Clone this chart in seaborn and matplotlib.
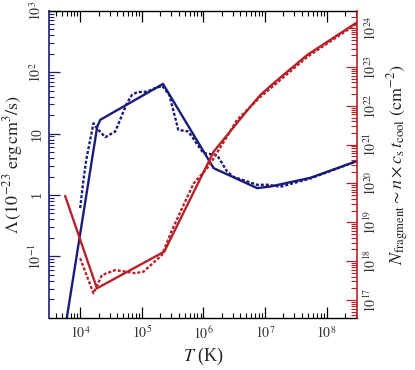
import numpy as np
import pandas as pd
import matplotlib
matplotlib.use("Agg")
import matplotlib.pyplot as plt
import seaborn as sns
from matplotlib.ticker import FixedLocator, LogLocator, NullFormatter

# values (log10 units)
# cooling function, piecewise fit (solid) and tabulated (dotted)
logT_fit = [3.783, 4.276, 4.325, 5.345, 6.167, 6.873, 7.089, 7.74, 8.504]
logL_fit = [-2.0, 1.109, 1.223, 1.808, 0.437, 0.112, 0.138, 0.280, 0.556]

logT_tab = [4.0, 4.054, 4.098, 4.216, 4.27, 4.407, 4.569, 4.759, 4.84, 4.922, 5.085,
            5.22, 5.333, 5.447, 5.593, 5.756, 6.0, 6.223, 6.385, 6.488, 6.873,
            7.057, 7.25, 7.74, 8.504]
logL_tab = [-0.213, 0.247, 0.572, 1.169, 1.09, 0.941, 1.033, 1.494, 1.629, 1.673, 1.683,
            1.74, 1.776, 1.629, 1.061, 1.033, 0.683, 0.650, 0.382, 0.296, 0.166,
            0.166, 0.134, 0.27, 0.556]

# fragment column density, fit (solid) and tabulated (dotted)
logT_nfit = [3.756, 4.272, 5.366, 6.167, 6.764, 6.927, 7.143, 7.686, 8.504]
logN_fit = [19.68, 17.30, 18.245, 20.82, 21.98, 22.28, 22.585, 23.31, 24.16]

logT_ntab = [4.0, 4.216, 4.353, 4.569, 4.894, 5.029, 5.328, 5.491, 5.68, 5.842,
             6.086, 6.385, 6.548, 6.927, 7.686, 8.504]
logN_ntab = [18.075, 17.17, 17.64, 17.77, 17.69, 17.73, 18.16, 18.80, 19.45, 20.0,
             20.44, 21.21, 21.64, 22.23, 23.26, 24.13]

left_ticks = [1e-1, 1, 10, 1e2, 1e3]
left_labels = [r"$10^{-1}$", "1", "10", r"$10^{2}$", r"$10^{3}$"]
right_exps = list(range(17, 25))
x_exps = [4, 5, 6, 7, 8]

navy = "#1b1b78"
red = "#b5222a"

sns.set_theme(style="ticks")
plt.rcParams["font.family"] = ["Liberation Serif", "DejaVu Serif"]
plt.rcParams["mathtext.fontset"] = "stix"

fig = plt.figure(figsize=(4.15, 3.7), dpi=100)
ax = fig.add_axes([0.119, 0.141, 0.742, 0.830])
ax2 = ax.twinx()

lam_fit = pd.DataFrame({"T": 10 ** np.array(logT_fit), "val": 10 ** np.array(logL_fit)})
lam_tab = pd.DataFrame({"T": 10 ** np.array(logT_tab), "val": 10 ** np.array(logL_tab)})
n_fit = pd.DataFrame({"T": 10 ** np.array(logT_nfit), "val": 10 ** np.array(logN_fit)})
n_tab = pd.DataFrame({"T": 10 ** np.array(logT_ntab), "val": 10 ** np.array(logN_ntab)})

dots = (0, (1.3, 0.8))
sns.lineplot(data=lam_fit, x="T", y="val", ax=ax, color=navy, lw=1.7, sort=False, estimator=None)
sns.lineplot(data=lam_tab, x="T", y="val", ax=ax, color=navy, lw=1.7, sort=False,
             estimator=None, linestyle=dots)
sns.lineplot(data=n_fit, x="T", y="val", ax=ax2, color=red, lw=1.7, sort=False, estimator=None)
sns.lineplot(data=n_tab, x="T", y="val", ax=ax2, color=red, lw=1.7, sort=False,
             estimator=None, linestyle=dots)

ax.set_xscale("log")
ax.set_yscale("log")
ax2.set_yscale("log")
ax.set_xlim(10 ** 3.5, 10 ** 8.5)
ax.set_ylim(1e-2, 1e3)
ax2.set_ylim(10 ** 16.54, 10 ** 24.45)

# x axis
ax.xaxis.set_major_locator(FixedLocator([10.0 ** e for e in x_exps]))
ax.set_xticklabels([rf"$10^{{{e}}}$" for e in x_exps])
ax.xaxis.set_minor_locator(LogLocator(base=10, subs=np.arange(2, 10), numticks=20))
ax.xaxis.set_minor_formatter(NullFormatter())

# left axis
ax.yaxis.set_major_locator(FixedLocator(left_ticks))
ax.set_yticklabels(left_labels, rotation=90, va="center")
ax.yaxis.set_minor_locator(LogLocator(base=10, subs=np.arange(2, 10), numticks=20))
ax.yaxis.set_minor_formatter(NullFormatter())

# right axis
ax2.yaxis.set_major_locator(FixedLocator([10.0 ** e for e in right_exps]))
ax2.set_yticklabels([rf"$10^{{{e}}}$" for e in right_exps], rotation=90, va="center")
ax2.yaxis.set_minor_locator(LogLocator(base=10, subs=np.arange(2, 10), numticks=20))
ax2.yaxis.set_minor_formatter(NullFormatter())

ax.tick_params(axis="x", which="both", direction="in", top=True, bottom=True,
               colors="black", labelcolor="#333333", labelsize=10, pad=5)
ax.tick_params(axis="x", which="major", length=8, width=0.9)
ax.tick_params(axis="x", which="minor", length=3.5, width=0.8)
ax.tick_params(axis="y", which="both", direction="in", left=True, right=False,
               colors=navy, labelcolor="#333333", labelsize=10, pad=4)
ax.tick_params(axis="y", which="major", length=8, width=0.9)
ax.tick_params(axis="y", which="minor", length=3.5, width=0.8)
ax2.tick_params(axis="y", which="both", direction="in", right=True, left=False,
                colors=red, labelcolor="#333333", labelsize=10, pad=4)
ax2.tick_params(axis="y", which="major", length=8, width=0.9)
ax2.tick_params(axis="y", which="minor", length=4, width=0.8)

for s in ["top", "bottom"]:
    ax.spines[s].set_color("black")
    ax.spines[s].set_linewidth(1.0)
    ax2.spines[s].set_visible(False)
ax.spines["left"].set_color(navy)
ax.spines["left"].set_linewidth(1.2)
ax.spines["right"].set_visible(False)
ax2.spines["left"].set_visible(False)
ax2.spines["right"].set_color(red)
ax2.spines["right"].set_linewidth(1.2)

ax.set_xlabel(r"$T$ (K)", fontsize=13, labelpad=3)
ax.set_ylabel(r"$\Lambda\,(10^{-23}\ \mathrm{erg\,cm^{3}/s})$", fontsize=13, labelpad=2)
ax2.set_ylabel(r"$N_{\mathrm{fragment}}\sim n\times c_{\mathrm{s}}\,t_{\mathrm{cool}}\ (\mathrm{cm^{-2}})$",
               fontsize=13, labelpad=4)

fig.savefig("out.png", dpi=100)
